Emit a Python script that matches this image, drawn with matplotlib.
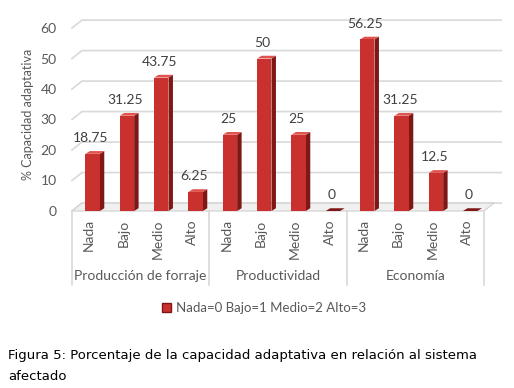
import matplotlib.pyplot as plt
import numpy as np
from matplotlib.patches import Patch

plt.rcParams['font.family'] = ['Lato', 'DejaVu Sans']

# data
groups = ['Producción de forraje', 'Productividad', 'Economía']
levels = ['Nada', 'Bajo', 'Medio', 'Alto']
forraje = [18.75, 31.25, 43.75, 6.25]
productividad = [25, 50, 25, 0]
economia = [56.25, 31.25, 12.5, 0]

vals = np.array(forraje + productividad + economia)
x = np.arange(len(vals))

front = '#C8312E'
side = '#7E1716'
top = '#E0544F'
grid_c = '#D9D9D9'
txt_c = '#595959'

fig = plt.figure(figsize=(5.14, 3.88), dpi=100)
ax = fig.add_axes([72 / 514, 1 - 211 / 388, 412 / 514, 183 / 388])
ax.set_xlim(-0.5, 11.5)
ax.set_ylim(0, 60)

# pseudo 3d depth in data units
dx, dy = 0.29, 2.6

# back wall gridlines with a slanted left edge
for g in range(0, 70, 10):
    ax.plot([-0.5, -0.5 + dx, 12.0], [g, g + dy, g + dy],
            color=grid_c, lw=1.2, clip_on=False, zorder=0)

# floor
ax.fill([-0.5, 11.5, 11.5 + dx, -0.5 + dx], [0, 0, dy, dy],
        color='#F0F0F0', ec='#D0D0D0', lw=0.8, clip_on=False, zorder=1)

w = 0.42
bx = x + 0.1
sd = 0.13
for xi, v in zip(bx, vals):
    # side face
    ax.fill([xi + w / 2, xi + w / 2 + sd, xi + w / 2 + sd, xi + w / 2],
            [0, 0.9, v + 0.9, v], color=side, lw=0, zorder=2, clip_on=False)
    # top face
    ax.fill([xi - w / 2, xi + w / 2, xi + w / 2 + sd, xi - w / 2 + sd],
            [v, v, v + 0.9, v + 0.9], color=top if v > 0 else side,
            lw=0, zorder=2, clip_on=False)
ax.bar(bx, vals, width=w, color=front, zorder=3)

for xi, v in zip(bx, vals):
    ax.text(xi - 0.05, v + 5.2, f'{v:g}', ha='center', va='center',
            fontsize=10, color='#404040')

ax.set_xticks(x)
ax.set_xticklabels(levels * len(groups), rotation=90, fontsize=10, color=txt_c)
ax.set_yticks(range(0, 70, 10))
ax.tick_params(axis='both', length=0, labelsize=10, colors=txt_c)
ax.tick_params(axis='x', pad=6)
ax.tick_params(axis='y', pad=11)
for s in ax.spines.values():
    s.set_visible(False)

ax.set_ylabel('% Capacidad adaptativa', fontsize=9, color=txt_c)
ax.yaxis.set_label_coords(-0.092, 0.53)

# group separators and labels
trans = ax.get_xaxis_transform()
for b in [-0.5, 3.5, 7.5, 11.5]:
    ax.plot([b, b], [0, -0.404], color=grid_c, lw=1.2, transform=trans,
            clip_on=False)
for i, g in enumerate(groups):
    ax.text(i * 4 + 1.5, -0.355, g, ha='center', va='center', fontsize=10,
            color=txt_c, transform=trans)

legend_label = ' '.join(f'{l}={i}' for i, l in enumerate(levels))
fig.legend(handles=[Patch(facecolor=front, edgecolor=side)], labels=[legend_label],
           loc='center', bbox_to_anchor=(264 / 514, 1 - 308 / 388), frameon=False,
           handlelength=0.7, handleheight=0.7, handletextpad=0.4,
           prop={'size': 9.5}, labelcolor=txt_c)

fig.text(8 / 514, 1 - 355 / 388,
         'Figura 5: Porcentaje de la capacidad adaptativa en relación al sistema',
         fontsize=9.5, family='DejaVu Sans', va='center', color='black')
fig.text(8 / 514, 1 - 376 / 388, 'afectado',
         fontsize=9.5, family='DejaVu Sans', va='center', color='black')

fig.savefig('out.png', dpi=100)
